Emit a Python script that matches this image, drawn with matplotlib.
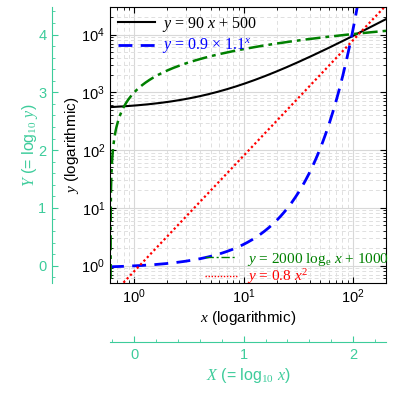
import numpy as np
import matplotlib
matplotlib.use("Agg")
import matplotlib.pyplot as plt
from matplotlib.ticker import LogLocator, MultipleLocator, NullFormatter

# coefficients of the plotted curves (as written in the legends)
lin_coef = [90, 500]          # y = 90 x + 500
exp_coef = [0.9, 1.1]         # y = 0.9 * 1.1**x
log_coef = [2000, 1000]       # y = 2000 ln x + 1000
pow_coef = [0.8, 2]           # y = 0.8 x**2

x_range = [0.6, 200]
y_range = [0.5, 3e4]
log_x_ticks = [0, 1, 2]
log_y_ticks = [0, 1, 2, 3, 4]

teal = "#3dcc9b"
serif = ["Liberation Serif", "DejaVu Serif"]
plt.rcParams["font.family"] = ["Liberation Sans", "DejaVu Sans"]
plt.rcParams["mathtext.fontset"] = "custom"
plt.rcParams["mathtext.rm"] = "Liberation Serif"
plt.rcParams["mathtext.it"] = "Liberation Serif:italic"

fig = plt.figure(figsize=(3.93, 3.93), dpi=100)
rect = [110 / 393, 1 - 283 / 393, 276 / 393, 276 / 393]
ax = fig.add_axes(rect)

x = np.geomspace(x_range[0], x_range[1], 800)
y_lin = lin_coef[0] * x + lin_coef[1]
y_exp = exp_coef[0] * exp_coef[1] ** x
with np.errstate(invalid="ignore"):
    y_log = log_coef[0] * np.log(x) + log_coef[1]
y_log = np.where(y_log > 0, y_log, 1e-3)
y_pow = pow_coef[0] * x ** pow_coef[1]

l1, = ax.plot(x, y_lin, color="black", lw=1.5)
l2, = ax.plot(x, y_exp, color="blue", lw=2.0, ls=(0, (5, 3)))
l3, = ax.plot(x, y_log, color="green", lw=1.8, ls=(0, (6, 2, 1.5, 2)))
l4, = ax.plot(x, y_pow, color="red", lw=1.6, ls=(0, (1, 1.2)))

ax.set_xscale("log")
ax.set_yscale("log")
ax.set_xlim(*x_range)
ax.set_ylim(*y_range)
ax.yaxis.set_major_locator(LogLocator(base=10, numticks=10))
ax.yaxis.set_minor_locator(LogLocator(base=10, subs=np.arange(2, 10), numticks=10))
ax.yaxis.set_minor_formatter(NullFormatter())
ax.xaxis.set_minor_formatter(NullFormatter())
ax.tick_params(which="both", direction="in", top=True, right=True, labelsize=10.5)
ax.tick_params(which="major", length=4)
ax.tick_params(which="minor", length=2)
ax.grid(True, which="major", color="#d8d8d8", lw=0.8)
ax.grid(True, which="minor", color="#e0e0e0", lw=0.7, ls=(0, (4, 3)))
ax.set_axisbelow(True)

ax.set_xlabel(r"$x$ (logarithmic)", fontsize=11, labelpad=2)
ax.set_ylabel(r"$y$ (logarithmic)", fontsize=11, labelpad=0)

leg1 = ax.legend([l1, l2], [r"$y$ = 90 $x$ + 500", r"$y$ = 0.9 × 1.1$^x$"],
                 loc="upper left", frameon=False, prop={"family": serif, "size": 11.5},
                 handlelength=2.3, handletextpad=0.45, borderaxespad=0.1,
                 borderpad=0.4, labelspacing=0.2)
for t, c in zip(leg1.get_texts(), ["black", "blue"]):
    t.set_color(c)
ax.add_artist(leg1)
leg2 = ax.legend([l3, l4], [r"$y$ = 2000 log$_{\rm e}$ $x$ + 1000", r"$y$ = 0.8 $x^2$"],
                 loc="lower right", frameon=False, prop={"family": serif, "size": 11},
                 handlelength=2.1, handletextpad=0.6, borderaxespad=0.0,
                 borderpad=0.1, labelspacing=0.0,
                 bbox_to_anchor=(1.015, -0.018))
for t, c in zip(leg2.get_texts(), ["green", "red"]):
    t.set_color(c)
for h in leg2.legend_handles:
    h.set_linewidth(1.0)

# secondary linear axes showing log10 values
ax2 = fig.add_axes(rect, facecolor="none")
ax2.set_xlim(np.log10(x_range[0]), np.log10(x_range[1]))
ax2.set_ylim(np.log10(y_range[0]), np.log10(y_range[1]))
for side in ["top", "right"]:
    ax2.spines[side].set_visible(False)
ax2.spines["left"].set_position(("outward", 58 * 0.72))
ax2.spines["bottom"].set_position(("outward", 59 * 0.72))
for side in ["left", "bottom"]:
    ax2.spines[side].set_color(teal)
ax2.set_xticks(log_x_ticks)
ax2.set_yticks(log_y_ticks)
ax2.xaxis.set_minor_locator(MultipleLocator(0.2))
ax2.yaxis.set_minor_locator(MultipleLocator(0.2))
ax2.tick_params(which="both", direction="in", colors=teal, labelsize=10.5)
ax2.tick_params(which="major", length=4.5, pad=4)
ax2.tick_params(which="minor", length=2)
ax2.set_xlabel(r"$X$ (= log$_{10}$ $x$)", fontsize=11.5, color=teal, labelpad=3)
ax2.set_ylabel(r"$Y$ (= log$_{10}$ $y$)", fontsize=11.5, color=teal, labelpad=-1)

fig.savefig("out.png", dpi=100)
